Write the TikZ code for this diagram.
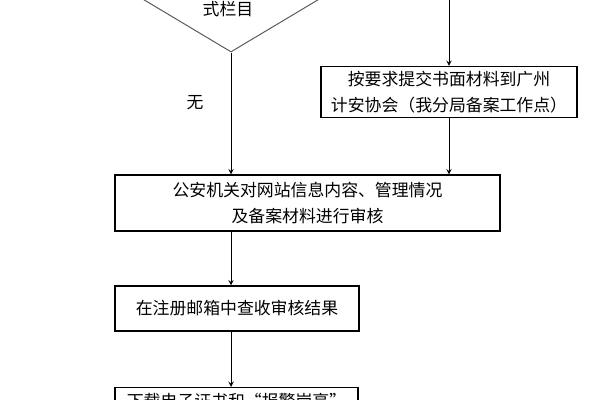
\documentclass[tikz,border=0pt]{standalone}
\usepackage{fontspec}
\newfontfamily\cjk{Noto Sans CJK SC}
\usetikzlibrary{shapes.geometric}

\begin{document}
\begin{tikzpicture}[x=0.025cm,y=-0.025cm,>=stealth,line width=0.7pt,
  every node/.style={font=\cjk\fontsize{12}{18}\selectfont},
  stepbox/.style={draw, line width=0.8pt, align=center}]
                \useasboundingbox (0,0) rectangle (600,400);
                \clip (0,0) rectangle (600,400);

                % Line coming in from above (right branch)
                \coordinate (top) at (449,0);

                % Decision (cut by the top edge)
                \node[draw=black!65, shape=diamond, inner sep=0pt, minimum width=7.69cm, minimum height=4.6cm] (ask) at (231,-40) {};
                \node (asktext) at (228,9) {式栏目};

                % Steps
                \node[stepbox, minimum width=6.4cm, minimum height=1.275cm] (submit) at (449,92) {按要求提交书面材料到广州\\计安协会（我分局备案工作点）};
                \node[stepbox, minimum width=9.625cm, minimum height=1.4cm] (audit) at (307.5,203) {公安机关对网站信息内容、管理情况\\及备案材料进行审核};
                \node[stepbox, minimum width=6.1cm, minimum height=1.125cm] (check) at (237,308.5) {在注册邮箱中查收审核结果};
                \node[stepbox, minimum width=6.075cm, anchor=north, inner sep=4pt] (cert) at (236.5,387) {下载电子证书和“报警岗亭”};

                % Branch label
                \node (no) at (195,103) {无};

                % Connections
                \draw[->] (ask.south) -- (audit.north -| ask.south);
                \draw[->] (top) -- (submit.north);
                \draw[->] (submit.south) -- (audit.north -| submit.south);
                \draw[->] (audit.south -| ask.south) -- (check.north -| ask.south);
                \draw[->] (check.south -| ask.south) -- (cert.north -| ask.south);
            \end{tikzpicture}
\end{document}
